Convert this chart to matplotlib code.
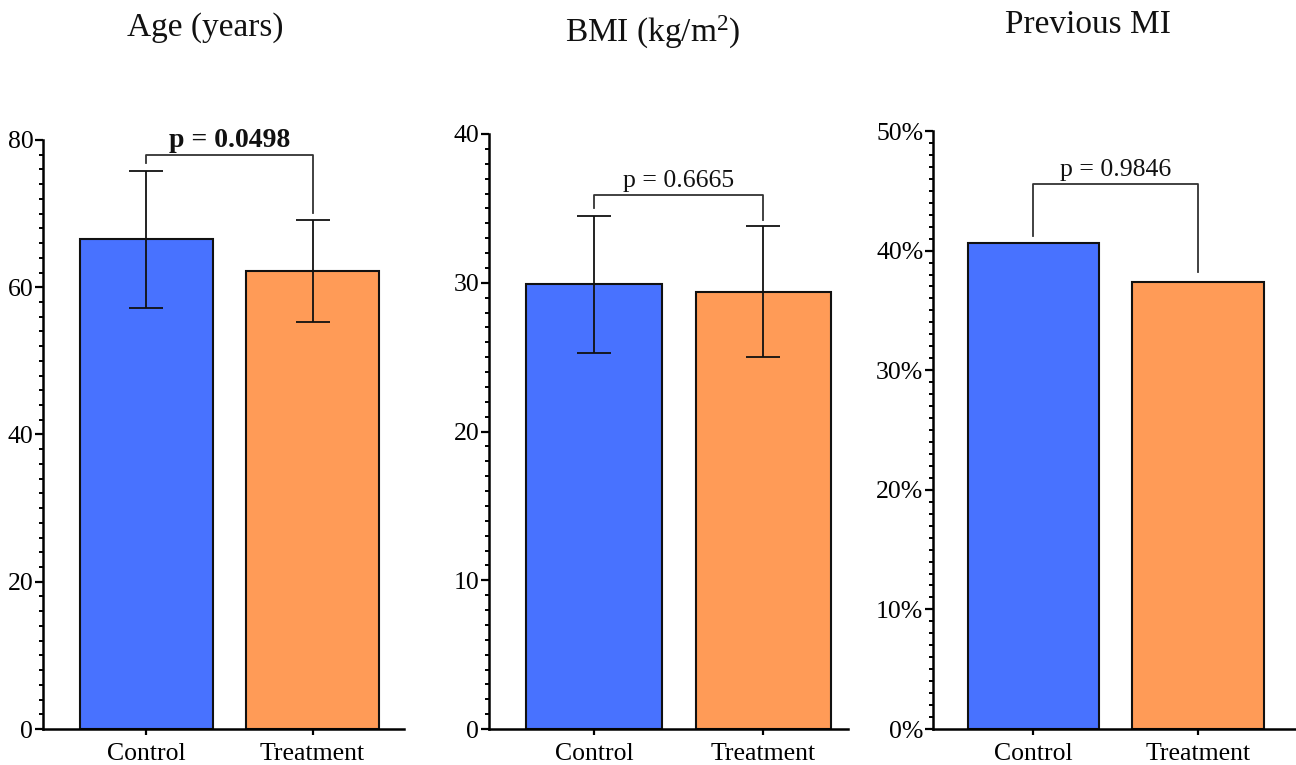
"""Three-panel baseline comparison: Control vs Treatment bar charts with p-value brackets."""

import matplotlib

matplotlib.use("Agg")
import matplotlib.pyplot as plt
from matplotlib.ticker import MultipleLocator, PercentFormatter

# --- data ---
GROUPS = ["Control", "Treatment"]
AGE_MEAN = [66.5, 62.2]
AGE_SD = [9.3, 6.9]
BMI_MEAN = [29.9, 29.4]
BMI_SD = [4.6, 4.4]
PREV_MI_PCT = [40.6, 37.4]
P_VALUES = ["0.0498", "0.6665", "0.9846"]
TITLES = ["Age (years)", "BMI (kg/m$^{2}$)", "Previous MI"]

# --- style ---
BLUE = "#4872FF"
ORANGE = "#FF9B57"
INK = "#111111"
BRACKET = "#333333"

plt.rcParams.update({
    "font.family": ["Liberation Serif", "DejaVu Serif"],
    "mathtext.fontset": "custom",
    "mathtext.rm": "Liberation Serif",
    "mathtext.it": "Liberation Serif:italic",
    "text.color": INK,
    "axes.linewidth": 1.8,
    "xtick.major.width": 1.6,
    "ytick.major.width": 1.6,
    "ytick.minor.width": 1.4,
    "ytick.major.size": 6,
    "ytick.minor.size": 3,
    "xtick.major.size": 4,
    "xtick.labelsize": 18.5,
    "ytick.labelsize": 18.5,
})

W, H = 1296, 765
fig = plt.figure(figsize=(W / 100, H / 100), dpi=100)


def px_axes(left, right, top, bottom):
    return fig.add_axes([left / W, 1 - bottom / H, (right - left) / W, (bottom - top) / H])


axes = [
    px_axes(43, 404, 140, 729),
    px_axes(489, 848, 134, 729),
    px_axes(933, 1300, 131, 729),
]
xlims = [(-0.62, 1.55), (-0.62, 1.50), (-0.61, 1.62)]
ylims = [(0, 80), (0, 40), (0, 50)]
majors = [20, 10, 10]
minors = [2, 1, 1]
means = [AGE_MEAN, BMI_MEAN, PREV_MI_PCT]
sds = [AGE_SD, BMI_SD, None]
# bracket: (bar height, left-leg end, right-leg end) in data units
brackets = [(77.9, 76.9, 70.1), (35.9, 35.0, 34.2), (45.6, 41.2, 38.2)]
title_x = [205, 653, 1088]
title_y = [28, 32, 25]

x = range(len(GROUPS))
for i, ax in enumerate(axes):
    ax.bar(x, means[i], width=0.8, color=[BLUE, ORANGE], edgecolor=INK,
           linewidth=1.5, zorder=2)
    if sds[i] is not None:
        ax.errorbar(x, means[i], yerr=sds[i], fmt="none", ecolor=INK,
                    elinewidth=1.3, capsize=12, capthick=1.3, zorder=3)

    top, yl, yr = brackets[i]
    ax.plot([0, 0, 1, 1], [yl, top, top, yr], color=BRACKET, linewidth=1.3,
            zorder=3, clip_on=False)
    bold = i == 0
    ax.annotate(f"p = {P_VALUES[i]}", (0.5, top), xytext=(0, 2),
                textcoords="offset points", ha="center", va="bottom",
                fontsize=20 if bold else 18.5,
                fontweight="bold" if bold else "normal")

    ax.set_xlim(*xlims[i])
    ax.set_ylim(*ylims[i])
    ax.set_xticks(list(x))
    ax.set_xticklabels(GROUPS)
    ax.yaxis.set_major_locator(MultipleLocator(majors[i]))
    ax.yaxis.set_minor_locator(MultipleLocator(minors[i]))
    if i == 2:
        ax.yaxis.set_major_formatter(PercentFormatter(decimals=0))
    ax.tick_params(axis="y", pad=1)
    ax.tick_params(axis="x", pad=6)
    for side in ("top", "right"):
        ax.spines[side].set_visible(False)

    fig.text(title_x[i] / W, 1 - title_y[i] / H, TITLES[i], ha="center",
             va="center", fontsize=24)

fig.savefig("out.png", dpi=100, facecolor="white")
